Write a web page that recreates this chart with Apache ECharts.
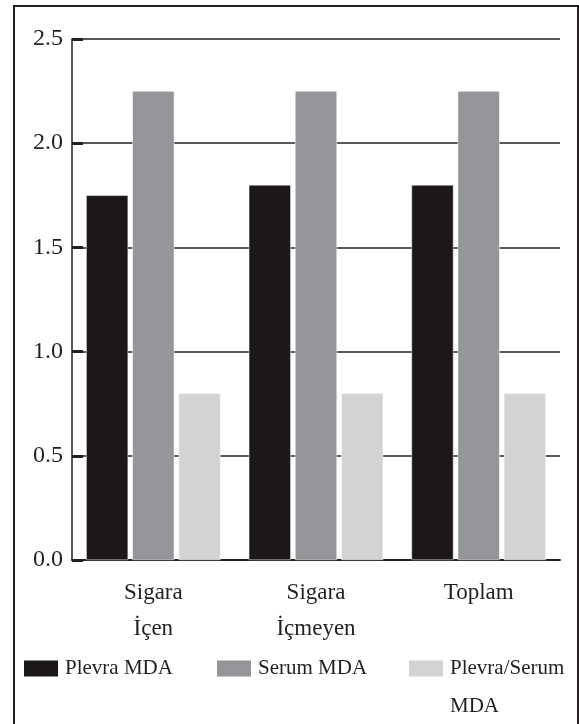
<!DOCTYPE html>
<html><head><meta charset="utf-8">
<script src="https://cdn.jsdelivr.net/npm/echarts@6/dist/echarts.min.js"></script>
<style>html,body{margin:0;padding:0;background:#fff}#c{width:579px;height:724px}</style>
</head><body><div id="c"></div>
<script>
const categories = ['Sigara\nİçen', 'Sigara\nİçmeyen', 'Toplam'];
const seriesNames = ['Plevra MDA', 'Serum MDA', 'Plevra/Serum'];
const plevraMDA = [1.75, 1.80, 1.80];
const serumMDA = [2.25, 2.25, 2.25];
const plevraSerumMDA = [0.80, 0.80, 0.80];
const yTicks = ['0.0', '0.5', '1.0', '1.5', '2.0', '2.5'];

const colors = ['#1c1718', '#939598', '#d1d3d4'];
const font = 'Liberation Serif';
const chart = echarts.init(document.getElementById('c'));
const legendBase = {
  orient: 'horizontal', itemWidth: 36, itemHeight: 18, itemGap: 0, padding: 0,
  icon: 'rect', textStyle: {fontFamily: font, fontSize: 21, color: '#231f20', padding: [0,0,0,1]},
  selectedMode: false
};
chart.setOption({
  animation: false,
  color: colors,
  grid: {left: 72, right: 19, top: 39, bottom: 164},
  graphic: [
    {type: 'rect', shape: {x: 14, y: 6, width: 564, height: 730}, style: {fill: 'none', stroke: '#231f20', lineWidth: 2}, silent: true},
    {type: 'text', left: 450, top: 696, style: {text: 'MDA', font: '21px "Liberation Serif"', fill: '#231f20'}}
  ],
  legend: [
    Object.assign({}, legendBase, {data: [seriesNames[0]], left: 22, top: 658}),
    Object.assign({}, legendBase, {data: [seriesNames[1]], left: 215, top: 658}),
    Object.assign({}, legendBase, {data: [seriesNames[2]], left: 407, top: 658})
  ],
  xAxis: {
    type: 'category', data: categories,
    axisLine: {lineStyle: {color: '#231f20', width: 2}},
    axisTick: {inside: true, length: 12, lineStyle: {color: '#231f20', width: 1.5}},
    axisLabel: {fontFamily: font, fontSize: 23, color: '#231f20', lineHeight: 36, margin: 15}
  },
  yAxis: {
    type: 'value', min: 0, max: 2.5, interval: 0.5,
    axisLine: {show: true, lineStyle: {color: '#231f20', width: 1.5}},
    axisTick: {show: true, inside: true, length: 11, lineStyle: {color: '#231f20', width: 3}},
    axisLabel: {fontFamily: font, fontSize: 24, color: '#231f20', margin: 9,
      formatter: v => yTicks[Math.round(v / 0.5)]},
    splitLine: {lineStyle: {color: '#231f20', width: 1.5}}
  },
  series: [
    {name: seriesNames[0], type: 'bar', data: plevraMDA, barWidth: 42, barGap: '10%', itemStyle: {borderColor: '#ffffff', borderWidth: 0.5}},
    {name: seriesNames[1], type: 'bar', data: serumMDA, barWidth: 42, barGap: '10%', itemStyle: {borderColor: '#ffffff', borderWidth: 0.5}},
    {name: seriesNames[2], type: 'bar', data: plevraSerumMDA, barWidth: 42, barGap: '10%', itemStyle: {borderColor: '#ffffff', borderWidth: 0.5}}
  ]
});
</script></body></html>
